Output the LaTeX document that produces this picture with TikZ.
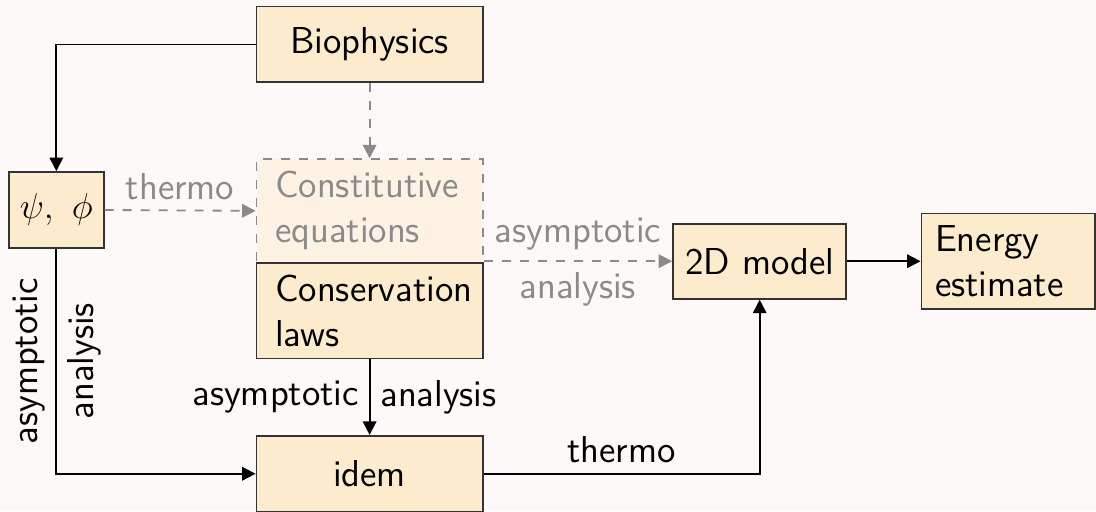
\documentclass[tikz,border=0pt]{standalone}
\usepackage{tikz}
\usetikzlibrary{arrows.meta}

\definecolor{bgpink}{RGB}{252,249,248}
\definecolor{boxfill}{RGB}{253,235,205}
\definecolor{fadefill}{RGB}{253,242,228}
\definecolor{fadegray}{RGB}{138,138,138}

\begin{document}
\begin{tikzpicture}[
    font=\fontsize{12.5}{15}\selectfont\sffamily,
    box/.style={rectangle, draw=black!80, line width=0.6pt, fill=boxfill, minimum width=2.65cm, minimum height=0.89cm, align=center},
    multibox/.style={box, text width=2.21cm, align=left, inner xsep=0.22cm},
    fadebox/.style={multibox, draw=fadegray, dashed, fill=fadefill, text=fadegray},
    arrow/.style={-{Triangle[length=4.5pt,width=4.5pt]}, line width=0.6pt},
    fadearrow/.style={arrow, dashed, draw=fadegray, text=fadegray}
]
\path[use as bounding box, fill=bgpink] (0,0) rectangle (12.84,-5.99);

\node[box] (bio) at (4.33,-0.52) {Biophysics};
\node[box, minimum width=1.11cm] (psi) at (0.66,-2.46) {$\psi,\ \phi$};
\node[fadebox, minimum height=1.21cm] (const) at (4.33,-2.47) {Constitutive\\equations};
\node[multibox, minimum height=1.12cm] (cons) at (4.33,-3.64) {Conservation\\laws};
\node[box] (idem) at (4.33,-5.55) {idem};
\node[box, minimum width=2.03cm, minimum height=0.88cm] (model) at (8.90,-3.06) {2D model};
\node[multibox, minimum width=2.03cm, text width=1.71cm, inner xsep=0.16cm, minimum height=1.12cm] (energy) at (11.81,-3.06) {Energy\\estimate};

\draw[arrow] (bio.west) -| (psi.north);
\draw[fadearrow] (bio.south) -- (const.north);
\draw[fadearrow] (psi.east) -- node[above] {thermo} (const.west);
\draw[fadearrow] (model.west -| const.east) -- node[above] {asymptotic} node[below] {analysis} (model.west);

\draw[arrow] (cons.south) -- node[left] {asymptotic} node[right] {analysis} (idem.north);
\draw[arrow] (psi.south) |- node[pos=0.25, rotate=90, anchor=south] {asymptotic} node[pos=0.25, rotate=90, anchor=north] {analysis} (idem.west);
\draw[arrow] (idem.east) -| node[pos=0.25, above] {thermo} (model.south);
\draw[arrow] (model.east) -- (energy.west);
\end{tikzpicture}
\end{document}
